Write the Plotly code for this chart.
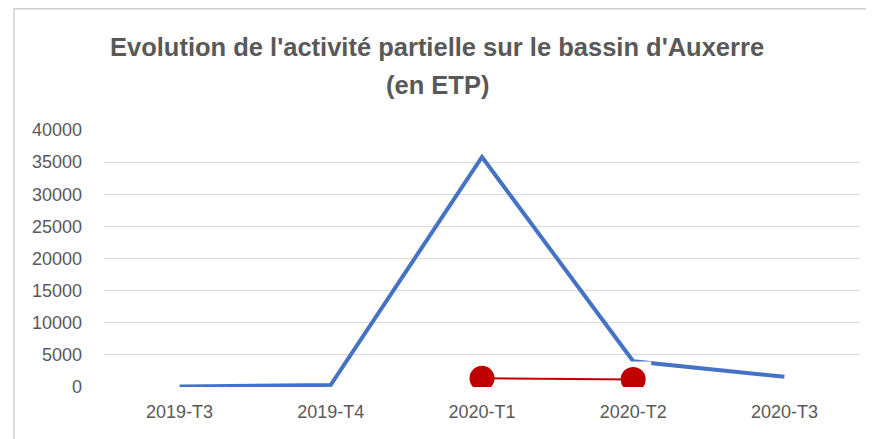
import plotly.graph_objects as go

# ---- data ----
categories = ["2019-T3", "2019-T4", "2020-T1", "2020-T2", "2020-T3"]
etp_values = [60, 330, 35800, 4000, 1600]
red_categories = ["2020-T1", "2020-T2"]
red_values = [1350, 1180]
y_tick_values = [0, 5000, 10000, 15000, 20000, 25000, 30000, 35000, 40000]
title_line1 = "Evolution de l'activité partielle sur le bassin d'Auxerre"
title_line2 = "(en ETP)"

# ---- layout geometry (page pixels; the page body adds an 8px offset) ----
OFF = 8
W, H = 874 - OFF, 439 - OFF
L = 104 - OFF
R = 874 - 860
T = 129.5 - OFF
B = 439 - 387
pw, ph = W - L - R, H - T - B

def px_x(x):
    return (x - OFF - L) / pw

def px_y(y):
    return (H - B - (y - OFF)) / ph

FONT = "Liberation Sans, Arial, sans-serif"
GREY = "#595959"

fig = go.Figure()
fig.add_trace(go.Scatter(
    x=categories, y=etp_values, mode="lines",
    line=dict(color="#4472C4", width=4), showlegend=False, hoverinfo="skip"))
# white backing patch of the red overlay
fig.add_trace(go.Scatter(
    x=red_categories, y=red_values, mode="markers",
    marker=dict(symbol="square", size=36, color="white", line=dict(width=0)),
    showlegend=False, hoverinfo="skip"))
fig.add_trace(go.Scatter(
    x=red_categories, y=red_values, mode="lines",
    line=dict(color="white", width=34), showlegend=False, hoverinfo="skip"))
fig.add_trace(go.Scatter(
    x=red_categories, y=red_values, mode="lines+markers",
    line=dict(color="#C00000", width=2),
    marker=dict(color="#C00000", size=25),
    showlegend=False, hoverinfo="skip"))

fig.update_layout(
    width=W, height=H,
    margin=dict(l=L, r=R, t=T, b=B, pad=0),
    paper_bgcolor="white", plot_bgcolor="white",
    font=dict(family=FONT, color=GREY, size=18),
    xaxis=dict(
        type="category", categoryorder="array", categoryarray=categories,
        range=[-0.5, 4.5], showgrid=False, showline=False, zeroline=False,
        ticks="", tickfont=dict(size=18, color=GREY), ticklabelstandoff=12,
    ),
    yaxis=dict(
        range=[0, 40000], tickvals=y_tick_values,
        ticktext=[str(v) for v in y_tick_values],
        showgrid=True, gridcolor="#d9d9d9", gridwidth=1,
        zeroline=False, showline=False, ticks="",
        tickfont=dict(size=18, color=GREY), ticklabelstandoff=21,
    ),
    shapes=[dict(
        type="rect", xref="paper", yref="paper",
        x0=px_x(14), x1=px_x(874 + 5), y0=px_y(439 + 5), y1=px_y(8),
        line=dict(color="#d0d0d0", width=1.5), fillcolor="rgba(0,0,0,0)",
        layer="below")],
    annotations=[
        dict(text="<b>" + title_line1 + "</b>", xref="paper", yref="paper",
             x=px_x(437), y=px_y(46), xanchor="center", yanchor="middle",
             showarrow=False, font=dict(size=25.5, color=GREY, family=FONT)),
        dict(text="<b>" + title_line2 + "</b>", xref="paper", yref="paper",
             x=px_x(437), y=px_y(84), xanchor="center", yanchor="middle",
             showarrow=False, font=dict(size=25.5, color=GREY, family=FONT)),
    ],
)

fig.write_html("out.html")
